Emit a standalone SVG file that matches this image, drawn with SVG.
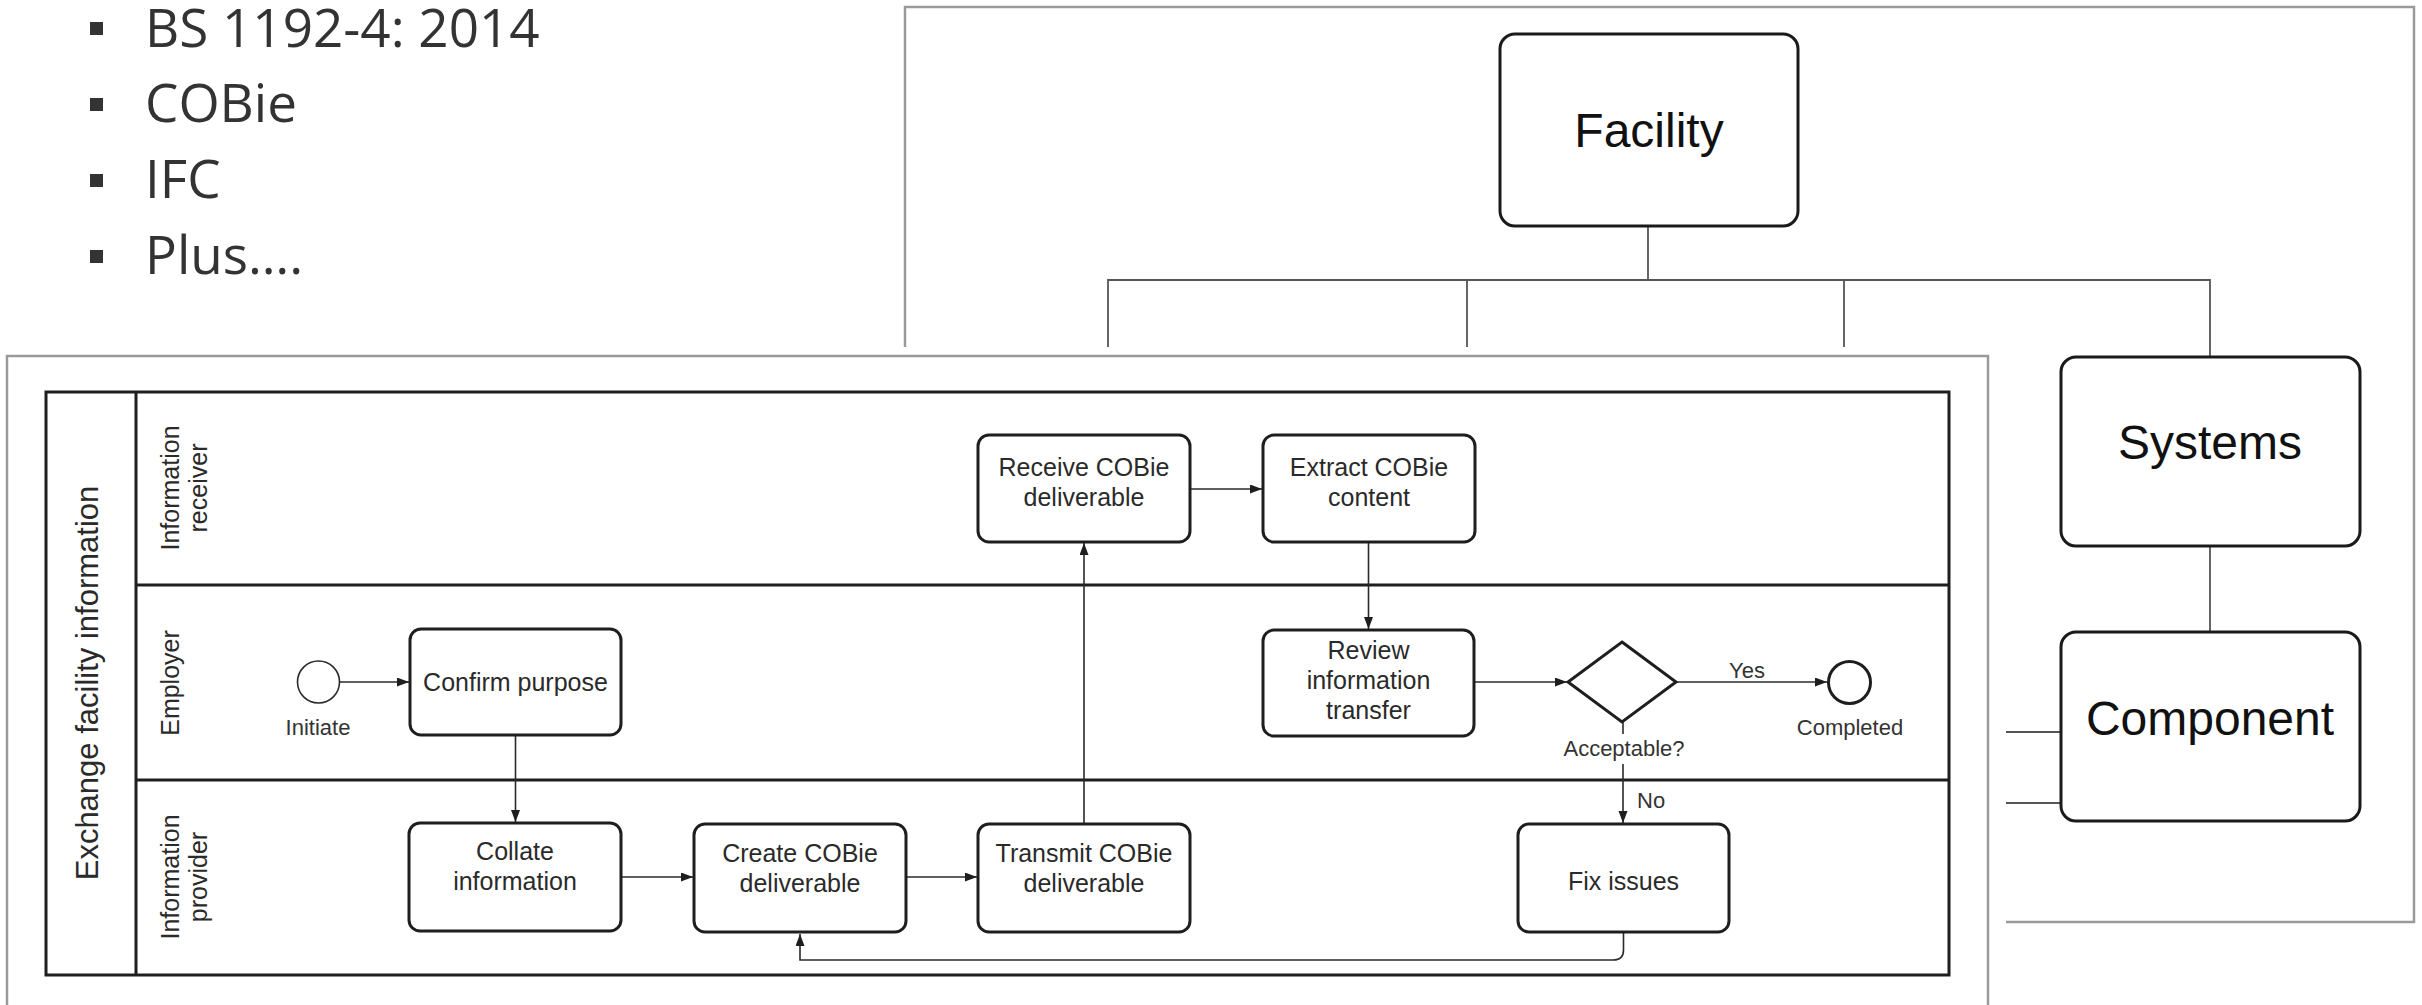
<svg xmlns="http://www.w3.org/2000/svg" width="2422" height="1005" viewBox="0 0 2422 1005">
  <style>
    .bullet-text { font-family: "Open Sans", "Liberation Sans", sans-serif; font-size: 53px; fill: #333; }
    .bullet { fill: #333; }
    .frame { fill: none; stroke: #9a9a9a; stroke-width: 2.5; }
    .tree-box { fill: #fff; stroke: #1a1a1a; stroke-width: 3; }
    .tree-text { font-family: "Liberation Sans", Arial, sans-serif; font-size: 48px; fill: #111; text-anchor: middle; }
    .tree-line { fill: none; stroke: #555; stroke-width: 1.8; }
    .pool { fill: none; stroke: #1e1e1e; stroke-width: 3; }
    .task { fill: #fff; stroke: #1e1e1e; stroke-width: 3; }
    .task-text { font-family: "Liberation Sans", Arial, sans-serif; font-size: 25px; fill: #2a2a2a; text-anchor: middle; }
    .lane-text { font-family: "Liberation Sans", Arial, sans-serif; font-size: 25px; fill: #2a2a2a; text-anchor: middle; }
    .pool-text { font-family: "Liberation Sans", Arial, sans-serif; font-size: 31px; fill: #2a2a2a; text-anchor: middle; }
    .label { font-family: "Liberation Sans", Arial, sans-serif; font-size: 22px; fill: #333; }
    .flow { fill: none; stroke: #2a2a2a; stroke-width: 1.6; }
  </style>
  <defs>
    <marker id="arrow" markerUnits="userSpaceOnUse" markerWidth="13" markerHeight="10" refX="12" refY="4.5" orient="auto">
      <path d="M0,0 L12,4.5 L0,9 z" fill="#1e1e1e"/>
    </marker>
  </defs>

  <rect width="2422" height="1005" fill="#fff"/>

  <!-- bullet list -->
  <g id="bullets">
    <rect class="bullet" x="90" y="22" width="13" height="13"/>
    <text class="bullet-text" x="145" y="47">BS 1192-4: 2014</text>
    <rect class="bullet" x="90" y="98" width="13" height="13"/>
    <text class="bullet-text" x="145" y="122">COBie</text>
    <rect class="bullet" x="90" y="174" width="13" height="13"/>
    <text class="bullet-text" x="145" y="198">IFC</text>
    <rect class="bullet" x="90" y="250" width="13" height="13"/>
    <text class="bullet-text" x="145" y="274">Plus….</text>
  </g>

  <!-- facility breakdown tree -->
  <g id="facility-frame">
    <path class="frame" d="M905 350 V7 H2414 V922 H2006"/>
  </g>
  <g id="tree-connectors">
    <path class="tree-line" d="M1648 226 V280"/>
    <path class="tree-line" d="M1108 350 V280 H2210 V357"/>
    <path class="tree-line" d="M1467 280 V350"/>
    <path class="tree-line" d="M1844 280 V350"/>
    <path class="tree-line" d="M2210 546 V632"/>
    <path class="tree-line" d="M2006 732 H2061"/>
    <path class="tree-line" d="M2006 803 H2061"/>
  </g>
  <g id="node-facility">
    <rect class="tree-box" x="1500" y="34" width="298" height="192" rx="15"/>
    <text class="tree-text" x="1649" y="147">Facility</text>
  </g>
  <g id="node-systems">
    <rect class="tree-box" x="2061" y="357" width="299" height="189" rx="15"/>
    <text class="tree-text" x="2210" y="459">Systems</text>
  </g>
  <g id="node-component">
    <rect class="tree-box" x="2061" y="632" width="299" height="189" rx="15"/>
    <text class="tree-text" x="2210" y="735">Component</text>
  </g>

  <!-- process map panel -->
  <rect x="0" y="347" width="2006" height="658" fill="#fff"/>
  <g id="panel-frame">
    <path class="frame" d="M7 1010 V356 H1988 V1010"/>
  </g>

  <g id="pool">
    <rect class="pool" x="46" y="392" width="1903" height="583"/>
    <path class="pool" d="M136 392 V975 M136 585 H1949 M136 780 H1949"/>
    <text class="pool-text" transform="translate(98 683) rotate(-90)">Exchange facility information</text>
  </g>
  <g id="lane-receiver">
    <text class="lane-text" transform="translate(179 488) rotate(-90)"><tspan x="0" y="0">Information</tspan><tspan x="0" y="28">receiver</tspan></text>
  </g>
  <g id="lane-employer">
    <text class="lane-text" transform="translate(179 683) rotate(-90)">Employer</text>
  </g>
  <g id="lane-provider">
    <text class="lane-text" transform="translate(179 877) rotate(-90)"><tspan x="0" y="0">Information</tspan><tspan x="0" y="28">provider</tspan></text>
  </g>

  <!-- sequence flows -->
  <g id="flows">
    <path class="flow" d="M340 682 H409" marker-end="url(#arrow)"/>
    <path class="flow" d="M515.5 735 V822" marker-end="url(#arrow)"/>
    <path class="flow" d="M621 877 H693" marker-end="url(#arrow)"/>
    <path class="flow" d="M906 877 H977" marker-end="url(#arrow)"/>
    <path class="flow" d="M1084 824 V543" marker-end="url(#arrow)"/>
    <path class="flow" d="M1190 489 H1262" marker-end="url(#arrow)"/>
    <path class="flow" d="M1368.5 542 V629" marker-end="url(#arrow)"/>
    <path class="flow" d="M1474 682 H1567" marker-end="url(#arrow)"/>
    <path class="flow" d="M1677 682 H1827" marker-end="url(#arrow)"/>
    <path class="flow" d="M1623 722 V734"/>
    <path class="flow" d="M1623 764 V823" marker-end="url(#arrow)"/>
    <path class="flow" d="M1623.5 932 V950 Q1623.5 960 1613.5 960 H800 V934" marker-end="url(#arrow)"/>
    <text class="label" x="1729" y="678">Yes</text>
    <text class="label" x="1637" y="808">No</text>
  </g>

  <g id="start-initiate">
    <circle cx="318.5" cy="682" r="21" fill="#fff" stroke="#2a2a2a" stroke-width="1.6"/>
    <text class="label" x="318" y="735" text-anchor="middle">Initiate</text>
  </g>
  <g id="task-confirm">
    <rect class="task" x="410" y="629" width="211" height="106" rx="11"/>
    <text class="task-text" x="515.5" y="691">Confirm purpose</text>
  </g>
  <g id="task-collate">
    <rect class="task" x="409" y="823" width="212" height="108" rx="11"/>
    <text class="task-text"><tspan x="515" y="860">Collate</tspan><tspan x="515" y="890">information</tspan></text>
  </g>
  <g id="task-create">
    <rect class="task" x="694" y="824" width="212" height="108" rx="11"/>
    <text class="task-text"><tspan x="800" y="862">Create COBie</tspan><tspan x="800" y="892">deliverable</tspan></text>
  </g>
  <g id="task-transmit">
    <rect class="task" x="978" y="824" width="212" height="108" rx="11"/>
    <text class="task-text"><tspan x="1084" y="862">Transmit COBie</tspan><tspan x="1084" y="892">deliverable</tspan></text>
  </g>
  <g id="task-receive">
    <rect class="task" x="978" y="435" width="212" height="107" rx="11"/>
    <text class="task-text"><tspan x="1084" y="476">Receive COBie</tspan><tspan x="1084" y="506">deliverable</tspan></text>
  </g>
  <g id="task-extract">
    <rect class="task" x="1263" y="435" width="212" height="107" rx="11"/>
    <text class="task-text"><tspan x="1369" y="476">Extract COBie</tspan><tspan x="1369" y="506">content</tspan></text>
  </g>
  <g id="task-review">
    <rect class="task" x="1263" y="630" width="211" height="106" rx="11"/>
    <text class="task-text"><tspan x="1368.5" y="659">Review</tspan><tspan x="1368.5" y="689">information</tspan><tspan x="1368.5" y="719">transfer</tspan></text>
  </g>
  <g id="gateway-acceptable">
    <path d="M1622 642 L1676 682 L1622 722 L1568 682 Z" fill="#fff" stroke="#1e1e1e" stroke-width="3"/>
    <text class="label" x="1624" y="756" text-anchor="middle">Acceptable?</text>
  </g>
  <g id="end-completed">
    <circle cx="1849.5" cy="682.5" r="21" fill="#fff" stroke="#1e1e1e" stroke-width="3"/>
    <text class="label" x="1850" y="735" text-anchor="middle">Completed</text>
  </g>
  <g id="task-fix">
    <rect class="task" x="1518" y="824" width="211" height="108" rx="11"/>
    <text class="task-text" x="1623.5" y="890">Fix issues</text>
  </g>
</svg>
